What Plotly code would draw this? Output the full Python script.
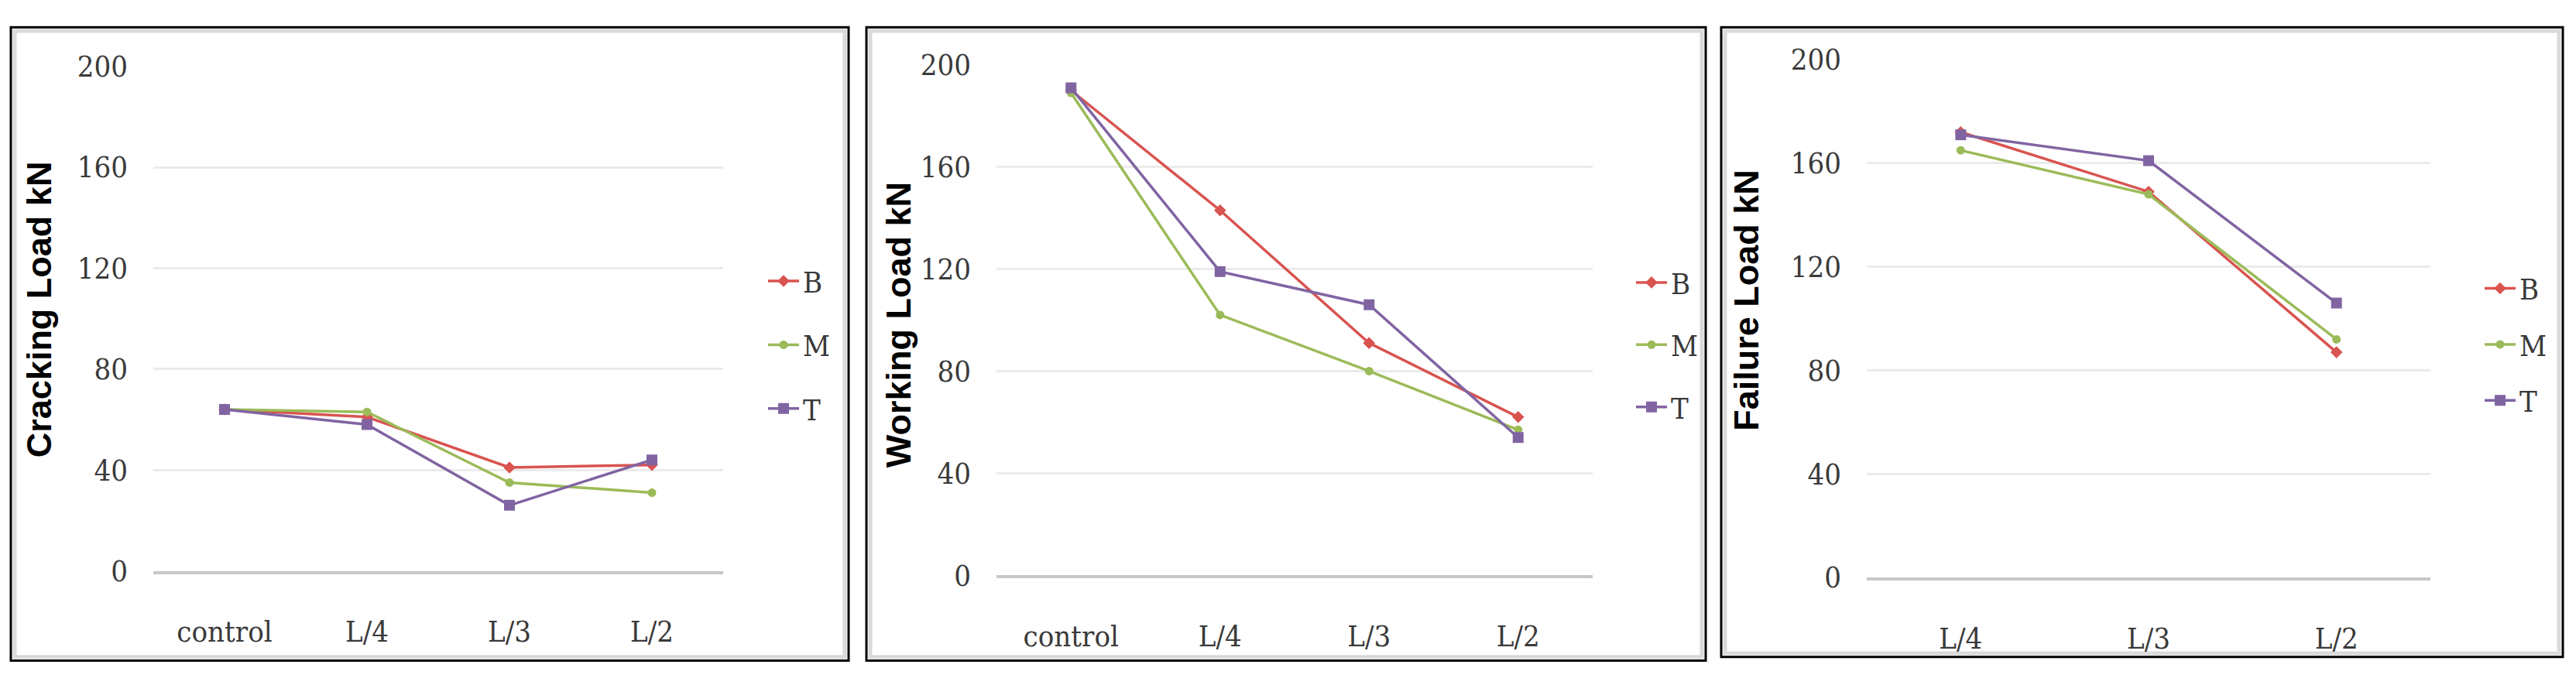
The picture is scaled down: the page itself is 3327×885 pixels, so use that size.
import plotly.graph_objects as go

# ---------------- data ----------------
cats_a = ["control", "L/4", "L/3", "L/2"]
cats_b = ["L/4", "L/3", "L/2"]

crack_B = [64, 61, 41, 42]
crack_M = [64, 63, 35, 31]
crack_T = [64, 58, 26, 44]

work_B = [190, 143, 91, 62]
work_M = [189, 102, 80, 57]
work_T = [191, 119, 106, 54]

fail_B = [172, 149, 87]
fail_M = [165, 148, 92]
fail_T = [171, 161, 106]

y_ticks = [0, 40, 80, 120, 160, 200]
series_names = ["B", "M", "T"]
titles = ["Cracking Load kN", "Working Load kN", "Failure Load kN"]

# ---------------- styling ----------------
W, H = 3327, 885
colors = {"B": "#D9534F", "M": "#9BBB59", "T": "#8064A2"}
symbols = {"B": "diamond", "M": "circle", "T": "square"}
msize = {"B": 12, "M": 11, "T": 14}
tick_font = dict(family="DejaVu Serif Condensed, Liberation Serif, serif", size=38, color="#3a3a3a")
title_font = dict(family="Liberation Sans, Arial, sans-serif", size=45, color="#000000")

def px_x(v):
    return v / W

def px_y(v):
    return 1 - v / H

# plot areas in pixels: (left, right, top(200), bottom(0))
areas = [(198, 934, 67, 753), (1287, 2057, 65, 759), (2411, 3139, 58, 762)]
boxes = [(14, 1096, 14, 875), (1119, 2203, 14, 875), (2223, 3310, 14, 870)]
legend_pos = [(987, 326), (2108, 328), (3204, 336)]
legend_gap = [30, 28, 20]
title_pos = [(50, 398), (1160, 419), (2256, 385)]

datasets = [
    (cats_a, {"B": crack_B, "M": crack_M, "T": crack_T}),
    (cats_a, {"B": work_B, "M": work_M, "T": work_T}),
    (cats_b, {"B": fail_B, "M": fail_M, "T": fail_T}),
]

fig = go.Figure()
layout = dict(
    width=W, height=H, margin=dict(l=0, r=0, t=0, b=0),
    paper_bgcolor="white", plot_bgcolor="white", showlegend=True,
    annotations=[], shapes=[],
)

for i, ((cats, series), area) in enumerate(zip(datasets, areas)):
    n = i + 1
    xa = "x" if n == 1 else f"x{n}"
    ya = "y" if n == 1 else f"y{n}"
    lg = "legend" if n == 1 else f"legend{n}"
    for s in series_names:
        fig.add_trace(go.Scatter(
            x=cats, y=series[s], name=s, mode="lines+markers",
            xaxis=xa, yaxis=ya, legend=lg, legendgroup=f"{n}{s}",
            line=dict(color=colors[s], width=3.5),
            marker=dict(symbol=symbols[s], size=msize[s], color=colors[s]),
        ))
    l, r, t, b = area
    xk = "xaxis" if n == 1 else f"xaxis{n}"
    yk = "yaxis" if n == 1 else f"yaxis{n}"
    layout[xk] = dict(
        domain=[px_x(l), px_x(r)], anchor=ya, type="category",
        range=[-0.5, len(cats) - 0.5], showgrid=False, zeroline=False,
        showline=True, linecolor="#c8c8c8", linewidth=4,
        ticks="", tickfont=tick_font, ticklabelstandoff=42,
    )
    layout[yk] = dict(
        domain=[px_y(b), px_y(t)], anchor=xa, range=[0, 200],
        tickvals=y_ticks, showgrid=True, gridcolor="#ebebeb", gridwidth=3,
        zeroline=False, showline=False, ticks="", tickfont=tick_font,
        ticklabelstandoff=32,
    )
    lx, ly = legend_pos[i]
    layout[lg] = dict(
        x=px_x(lx), y=px_y(ly), xanchor="left", yanchor="top",
        bgcolor="rgba(0,0,0,0)", borderwidth=0, tracegroupgap=legend_gap[i],
        font=dict(family="DejaVu Serif Condensed, Liberation Serif, serif", size=38, color="#3a3a3a"),
        itemwidth=40,
    )
    tx, ty = title_pos[i]
    layout["annotations"].append(dict(
        text=f"<b>{titles[i]}</b>", xref="paper", yref="paper",
        x=px_x(tx), y=px_y(ty), xanchor="center", yanchor="middle",
        textangle=-90, showarrow=False, font=title_font,
    ))
    bl, br, bt, bb = boxes[i]
    layout["shapes"].append(dict(
        type="rect", xref="paper", yref="paper",
        x0=px_x(bl + 5), x1=px_x(br - 5), y0=px_y(bb - 5), y1=px_y(bt + 5),
        line=dict(color="#dadada", width=5), fillcolor="rgba(0,0,0,0)", layer="below",
    ))
    layout["shapes"].append(dict(
        type="rect", xref="paper", yref="paper",
        x0=px_x(bl), x1=px_x(br), y0=px_y(bb), y1=px_y(bt),
        line=dict(color="#000000", width=3), fillcolor="rgba(0,0,0,0)", layer="above",
    ))

fig.update_layout(**layout)
fig.write_html("out.html", config={"displayModeBar": False},
               post_script="document.body.style.margin='0';")
